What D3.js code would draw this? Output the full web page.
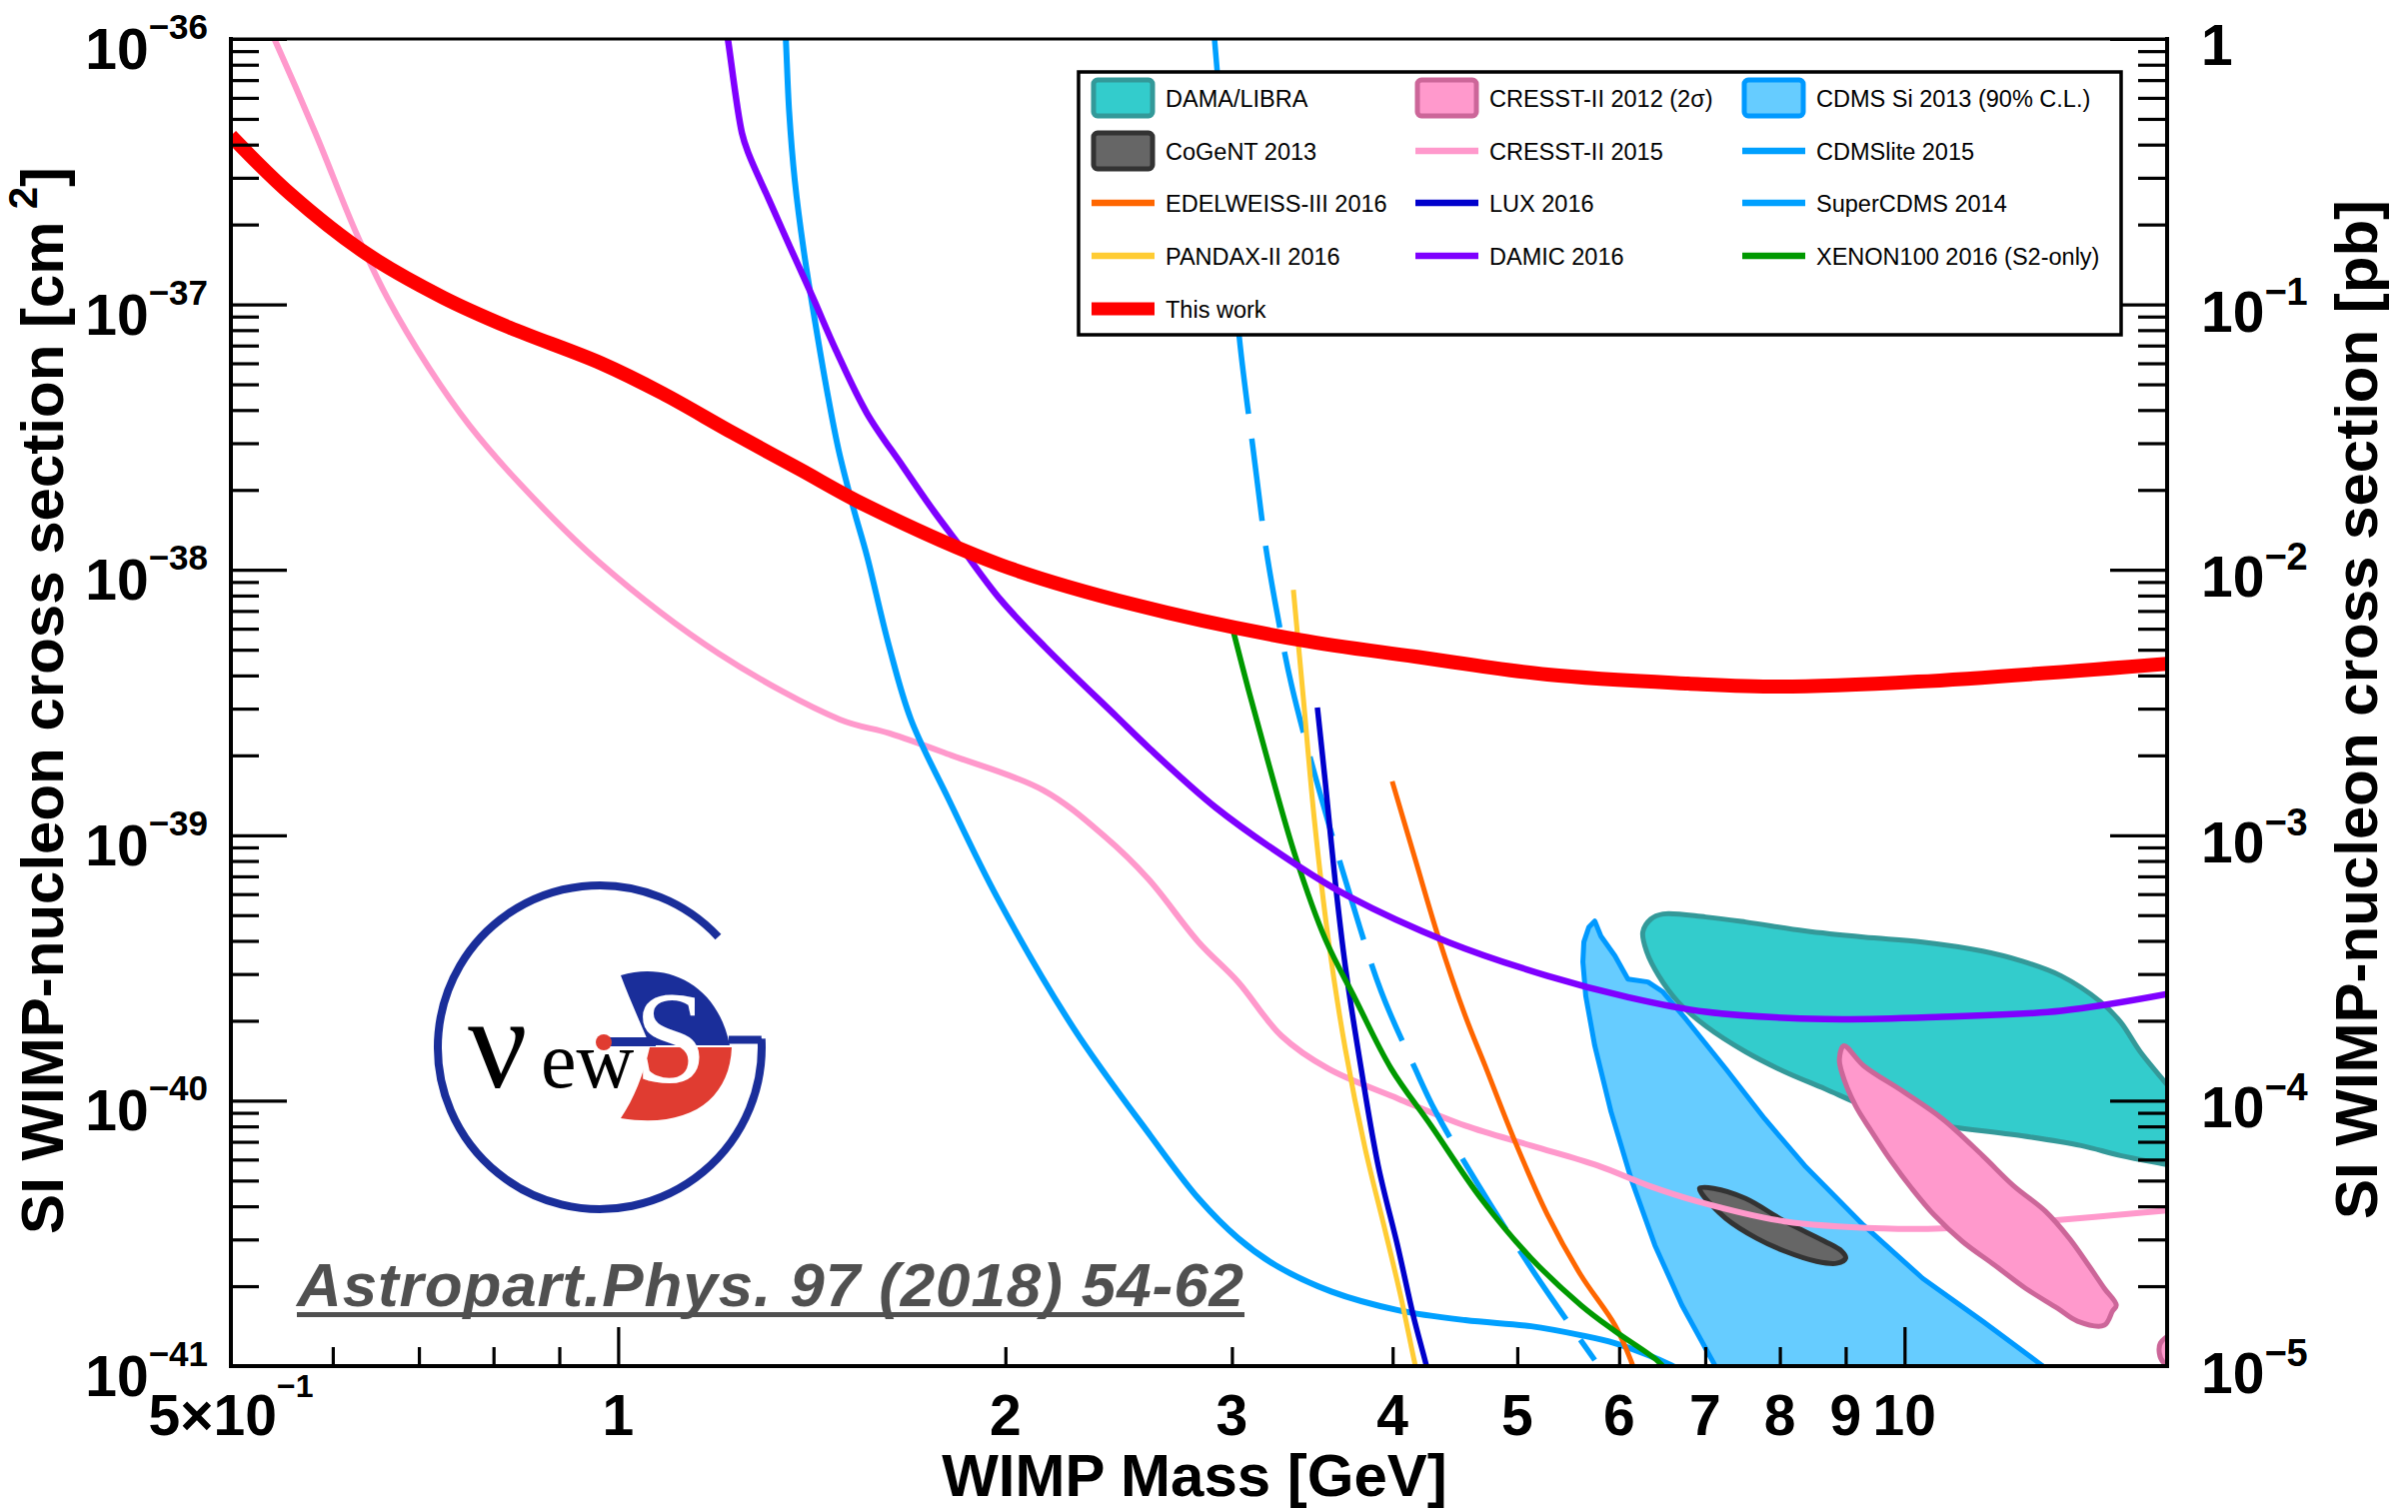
<!DOCTYPE html>
<html><head><meta charset="utf-8">
<script src="https://cdn.jsdelivr.net/npm/d3@7"></script>
<style>body{margin:0;background:#fff} svg{display:block} text{font-family:"Liberation Sans",Arial,Helvetica,sans-serif}</style>
</head><body>
<svg id="c" width="2409" height="1513"></svg>
<script>
// ---------- DATA (mass in GeV, cross section in cm^2) ----------
const redMass  = [0.5,0.556,0.637,0.731,0.823,0.970,1.082,1.228,1.382,1.561,1.983,2.52,3.38,4.165,5.28,6.785,8.0,10.24,16.0];
const redSigma = [4.32e-37,2.61e-37,1.555e-37,1.062e-37,8.19e-38,6.0e-38,4.63e-38,3.28e-38,2.40e-38,1.74e-38,1.044e-38,7.39e-39,5.45e-39,4.71e-39,4.03e-39,3.73e-39,3.63e-39,3.79e-39,4.43e-39];

const cresst15Mass  = [0.532,0.541,0.582,0.626,0.662,0.713,0.766,0.838,0.966,1.198,1.487,1.626,1.816,2.141,2.388,2.584,2.826,3.034,3.278,3.565,4.04,4.555,5.125,5.775,6.32,6.91,8.07,9.63,10.70,12.78,16.0];
const cresst15Sigma = [1.18e-36,9.9e-37,4.39e-37,1.85e-37,1.053e-37,5.75e-38,3.51e-38,2.12e-38,1.072e-38,4.83e-39,2.73e-39,2.42e-39,2.0e-39,1.476e-39,9.91e-40,6.83e-40,3.96e-40,2.80e-40,1.755e-40,1.319e-40,1.017e-40,8.05e-41,6.77e-41,5.69e-41,4.79e-41,4.17e-41,3.51e-41,3.30e-41,3.30e-41,3.51e-41,3.86e-41];

const damicMass  = [1.213,1.217,1.248,1.264,1.310,1.362,1.417,1.477,1.561,1.664,1.759,1.846,1.983,2.146,2.440,2.584,2.913,3.38,3.694,4.418,5.28,6.085,7.007,8.67,10.70,13.24,16.0];
const damicSigma = [1.1e-36,1.0e-36,4.43e-37,3.66e-37,2.48e-37,1.623e-37,1.062e-37,6.71e-38,3.89e-38,2.46e-38,1.667e-38,1.221e-38,7.71e-39,5.13e-39,2.80e-39,2.14e-39,1.274e-39,7.65e-40,5.90e-40,3.96e-40,2.95e-40,2.46e-40,2.16e-40,2.03e-40,2.07e-40,2.18e-40,2.52e-40];

const cdmsliteMass  = [1.348,1.350,1.358,1.372,1.394,1.422,1.453,1.484,1.525,1.561,1.623,1.689,1.807,1.972,2.259,2.593,2.826,3.034,3.243,3.584,4.04,4.555,5.125,5.603,5.955,6.32,6.58,6.9];
const cdmsliteSigma = [1.1e-36,1.0e-36,5.36e-37,2.92e-37,1.596e-37,8.71e-38,4.75e-38,2.82e-38,1.681e-38,1.129e-38,5.22e-39,2.73e-39,1.364e-39,5.80e-40,1.88e-40,7.38e-41,4.28e-41,3.03e-41,2.40e-41,1.91e-41,1.624e-41,1.489e-41,1.413e-41,1.307e-41,1.220e-41,1.10e-41,1.009e-41,8.9e-42];

const superCdmsMass  = [2.894,2.908,2.970,3.040,3.117,3.190,3.260,3.337,3.502,3.694,3.920,4.165,4.316,4.645,5.144,5.744];
const superCdmsSigma = [1.3e-36,1.0e-36,2.92e-37,7.51e-38,2.82e-38,1.19e-38,6.49e-39,3.70e-39,1.515e-39,6.27e-40,2.57e-40,1.319e-40,9.17e-41,4.96e-41,2.28e-41,1.053e-41];

const pandaxMass  = [3.349,3.410,3.477,3.565,3.675,3.808,3.948,4.062,4.165,4.19];
const pandaxSigma = [8.41e-39,3.25e-39,1.148e-39,4.06e-40,1.568e-40,6.60e-41,3.22e-41,1.80e-41,1.009e-41,9e-42];

const luxMass  = [3.496,3.546,3.610,3.675,3.781,3.898,4.04,4.150,4.248,4.27];
const luxSigma = [3.03e-39,1.582e-39,6.66e-40,3.22e-40,1.319e-40,5.69e-41,2.78e-41,1.555e-41,1.009e-41,9e-42];

const xenonMass  = [3.008,3.090,3.202,3.361,3.546,3.741,3.990,4.285,4.686,5.125,5.603,5.955,6.43,6.57];
const xenonSigma = [5.85e-39,3.54e-39,1.88e-39,8.34e-40,4.06e-40,2.42e-40,1.319e-40,8.05e-41,4.28e-41,2.55e-41,1.696e-41,1.354e-41,1.044e-41,9.3e-42];

const edelMass  = [3.997,4.165,4.339,4.555,4.720,4.980,5.28,5.603,5.955,6.13,6.17];
const edelSigma = [1.596e-39,8.12e-40,4.17e-40,2.09e-40,1.354e-40,7.01e-41,3.70e-41,2.20e-41,1.426e-41,1.044e-41,9.5e-42];

// closed regions
const cdmsSiMass  = [5.744,5.807,5.955,6.095,6.317,6.489,6.761,7.262,7.785,8.364,9.295,10.33,11.50,12.78,13.27,7.185,7.12,6.713,6.397,6.129,5.913,5.744,5.652,5.623,5.633,5.684];
const cdmsSiSigma = [4.75e-40,4.17e-40,3.51e-40,2.87e-40,2.80e-40,2.57e-40,2.03e-40,1.319e-40,8.55e-41,5.69e-41,3.39e-41,2.14e-41,1.476e-41,1.009e-41,8.63e-42,8.63e-42,1.009e-41,1.696e-41,2.85e-41,5.09e-41,9.09e-41,1.61e-40,2.48e-40,3.33e-40,3.96e-40,4.51e-40];

const damaMass  = [6.26,6.35,6.489,7.007,7.524,8.364,9.295,10.33,11.50,12.33,13.24,14.20,14.72,15.25,16.0,16.59,16.59,16.0,14.72,13.72,12.33,10.70,9.98,9.295,8.67,8.07,7.524,7.007,6.665,6.442,6.305];
const damaSigma = [4.32e-40,4.83e-40,5.05e-40,4.92e-40,4.71e-40,4.36e-40,4.13e-40,3.96e-40,3.66e-40,3.36e-40,2.95e-40,2.36e-40,1.98e-40,1.528e-40,1.148e-40,9.17e-41,5.55e-41,5.74e-41,6.21e-41,6.77e-41,7.38e-41,8.05e-41,8.55e-41,9.57e-41,1.109e-40,1.285e-40,1.528e-40,1.91e-40,2.36e-40,2.95e-40,3.63e-40];

const cresst12Mass  = [8.97,8.90,8.935,9.16,9.428,9.77,10.13,10.55,11.09,11.75,12.42,13.15,13.63,14.30,14.51,14.61,14.30,13.90,13.43,12.87,12.15,11.50,10.70,9.98,9.295];
const cresst12Sigma = [1.61e-40,1.438e-40,1.285e-40,9.57e-41,7.65e-41,5.90e-41,4.67e-41,3.70e-41,2.95e-41,2.40e-41,1.963e-41,1.652e-41,1.476e-41,1.426e-41,1.61e-41,1.696e-41,1.963e-41,2.40e-41,3.03e-41,3.83e-41,4.79e-41,6.21e-41,8.55e-41,1.081e-40,1.354e-40];
const cresst12bMass  = [16.06,15.81,15.78,15.89,16.1,16.25];
const cresst12bSigma = [1.297e-41,1.22e-41,1.119e-41,1.035e-41,1.0e-41,1.29e-41];

const cogentMass  = [6.93,7.107,7.524,8.07,8.67,8.935,9.0,8.856,8.545,8.07,7.675,7.262,6.956];
const cogentSigma = [4.67e-41,4.67e-41,4.28e-41,3.51e-41,2.95e-41,2.71e-41,2.55e-41,2.44e-41,2.48e-41,2.71e-41,3.03e-41,3.60e-41,4.47e-41];

// axes / ticks
const xDomain = [0.5, 16];
const yDomain = [1e-41, 1e-36];
const yDomainPb = [1e-5, 1];
const xMajorTicks = [1, 10];
const xMinorTicks = [0.6,0.7,0.8,0.9,2,3,4,5,6,7,8,9];
const xTickLabels = [[0.5,"5×10","−1"],[1,"1",""],[2,"2",""],[3,"3",""],[4,"4",""],[5,"5",""],[6,"6",""],[7,"7",""],[8,"8",""],[9,"9",""],[10,"10",""]];
const yExponents = [-41,-40,-39,-38,-37,-36];
const yPbExponents = [-5,-4,-3,-2,-1,0];

const legendLabels = ["DAMA/LIBRA","CRESST-II 2012 (2σ)","CDMS Si 2013 (90% C.L.)",
  "CoGeNT 2013","CRESST-II 2015","CDMSlite 2015",
  "EDELWEISS-III 2016","LUX 2016","SuperCDMS 2014",
  "PANDAX-II 2016","DAMIC 2016","XENON100 2016 (S2-only)",
  "This work"];
const legendKinds = ["box","box","box","box","line","line","line","line","line","line","line","line","thick"];
const legendFill   = ["#33cccc","#ff99cc","#66ccff","#666666",null,null,null,null,null,null,null,null,null];
const legendStroke = ["#339999","#cc6699","#0099ff","#333333","#ff99cc","#00a0ff","#ff6600","#0000cc","#00a0ff","#ffcc33","#7f00ff","#009900","#ff0000"];

// ---------- DRAW ----------
const svg = d3.select('#c');
const L = 231, R = 2168, T = 39, B = 1367;
const x = d3.scaleLog().domain(xDomain).range([L, R]);
const y = d3.scaleLog().domain(yDomain).range([B, T]);
const yPb = d3.scaleLog().domain(yDomainPb).range([B, T]);

svg.append('rect').attr('width',2409).attr('height',1513).attr('fill','#fff');
svg.append('defs').append('clipPath').attr('id','pc')
  .append('rect').attr('x',L).attr('y',T).attr('width',R-L).attr('height',B-T);
const plot = svg.append('g').attr('clip-path','url(#pc)');

const zip = (a,b) => a.map((v,i)=>[v,b[i]]);
const lineGen = d3.line().x(d=>x(d[0])).y(d=>y(d[1])).curve(d3.curveCatmullRom.alpha(0.5));
const closedSmooth = d3.line().x(d=>x(d[0])).y(d=>y(d[1])).curve(d3.curveCatmullRomClosed.alpha(0.5));
const closedLin = d3.line().x(d=>x(d[0])).y(d=>y(d[1])).curve(d3.curveLinearClosed);

function region(gen, m, s, fill, stroke, w){
  plot.append('path').attr('d', gen(zip(m,s))).attr('fill',fill).attr('stroke',stroke)
    .attr('stroke-width',w).attr('stroke-linejoin','round');
}
function curve(m, s, color, w, dash){
  const p = plot.append('path').attr('d', lineGen(zip(m,s))).attr('fill','none')
    .attr('stroke',color).attr('stroke-width',w).attr('stroke-linejoin','round');
  if (dash) p.attr('stroke-dasharray',dash);
}

region(closedSmooth, damaMass, damaSigma, '#33cccc', '#339999', 5);
region(closedLin, cdmsSiMass, cdmsSiSigma, '#66ccff', '#0099ff', 5);
region(closedSmooth, cogentMass, cogentSigma, '#666666', '#333333', 5);
curve(cresst15Mass, cresst15Sigma, '#ff99cc', 6);
region(closedSmooth, cresst12Mass, cresst12Sigma, '#ff99cc', '#cc6699', 5);
region(closedSmooth, cresst12bMass, cresst12bSigma, '#ff99cc', '#cc6699', 5);
curve(cdmsliteMass, cdmsliteSigma, '#00a0ff', 6);
curve(superCdmsMass, superCdmsSigma, '#00a0ff', 5.5, '83,25');
curve(edelMass, edelSigma, '#ff6600', 5);
curve(pandaxMass, pandaxSigma, '#ffcc33', 5);
curve(luxMass, luxSigma, '#0000cc', 5.5);
curve(xenonMass, xenonSigma, '#009900', 5.5);
curve(damicMass, damicSigma, '#7f00ff', 6.5);
curve(redMass, redSigma, '#ff0000', 14);

// ---------- AXES ----------
function styleAxis(g){
  g.select('.domain').remove();
  g.selectAll('text').remove();
  g.selectAll('line').attr('stroke','#000').attr('stroke-width',3.2);
}
const yMinor = [];
yExponents.slice(0,-1).forEach(e=>{ for(let k=2;k<=9;k++) yMinor.push(k*Math.pow(10,e)); });
const yMajor = yExponents.map(e=>Math.pow(10,e));
const pbMinor = [];
yPbExponents.slice(0,-1).forEach(e=>{ for(let k=2;k<=9;k++) pbMinor.push(k*Math.pow(10,e)); });
const pbMajor = yPbExponents.map(e=>Math.pow(10,e));

svg.append('g').attr('transform',`translate(${L},0)`).call(d3.axisLeft(y).tickValues(yMajor).tickSize(-56).tickSizeOuter(0)).call(styleAxis);
svg.append('g').attr('transform',`translate(${L},0)`).call(d3.axisLeft(y).tickValues(yMinor).tickSize(-28).tickSizeOuter(0)).call(styleAxis);
svg.append('g').attr('transform',`translate(${R},0)`).call(d3.axisRight(yPb).tickValues(pbMajor).tickSize(-57).tickSizeOuter(0)).call(styleAxis);
svg.append('g').attr('transform',`translate(${R},0)`).call(d3.axisRight(yPb).tickValues(pbMinor).tickSize(-29).tickSizeOuter(0)).call(styleAxis);
svg.append('g').attr('transform',`translate(0,${B})`).call(d3.axisBottom(x).tickValues(xMajorTicks).tickSize(-39).tickSizeOuter(0)).call(styleAxis);
svg.append('g').attr('transform',`translate(0,${B})`).call(d3.axisBottom(x).tickValues(xMinorTicks).tickSize(-19).tickSizeOuter(0)).call(styleAxis);

// frame
const frame = svg.append('g').attr('stroke','#000').attr('stroke-linecap','square');
frame.append('line').attr('x1',L).attr('x2',R).attr('y1',T).attr('y2',T).attr('stroke-width',3);
frame.append('line').attr('x1',L).attr('x2',L).attr('y1',T).attr('y2',B).attr('stroke-width',4);
frame.append('line').attr('x1',R).attr('x2',R).attr('y1',T).attr('y2',B).attr('stroke-width',4);
frame.append('line').attr('x1',L).attr('x2',R).attr('y1',B).attr('y2',B).attr('stroke-width',4);

// tick labels
function expLabel(px, py, anchor, base, exp, size, supSize, supDy, weight){
  const t = svg.append('text').attr('x',px).attr('y',py).attr('text-anchor',anchor)
    .attr('font-size',size).attr('font-weight',weight).attr('fill','#000');
  t.append('tspan').text(base);
  if (exp) t.append('tspan').attr('dy',supDy).attr('font-size',supSize).text(exp);
}
yExponents.forEach(e=>{
  expLabel(208, y(Math.pow(10,e))+30, 'end', '10', '−'+Math.abs(e), 57, 35, -30, 'bold');
});
yPbExponents.forEach(e=>{
  if (e===0) expLabel(2202, yPb(1)+26, 'start', '1', '', 57, 38, -27, 'bold');
  else expLabel(2202, yPb(Math.pow(10,e))+27, 'start', '10', '−'+Math.abs(e), 57, 38, -27, 'bold');
});
xTickLabels.forEach(([v,base,exp])=>{
  expLabel(x(v), 1436, 'middle', base, exp, 57, 32, -38, 'bold');
});

// axis titles
const yt = svg.append('text').attr('transform','translate(63,701) rotate(-90)').attr('text-anchor','middle')
  .attr('font-size',60).attr('font-weight','bold');
yt.append('tspan').text('SI WIMP-nucleon cross section [cm');
yt.append('tspan').attr('dx',12).attr('dy',-26).attr('font-size',40).text('2');
yt.append('tspan').attr('dy',26).text(']');
svg.append('text').attr('transform','translate(2378,710) rotate(-90)').attr('text-anchor','middle')
  .attr('font-size',60).attr('font-weight','bold').text('SI WIMP-nucleon cross section [pb]');
svg.append('text').attr('x',1195).attr('y',1497).attr('text-anchor','middle')
  .attr('font-size',60).attr('font-weight','bold').text('WIMP Mass [GeV]');

// ---------- LEGEND ----------
const lg = svg.append('g');
lg.append('rect').attr('x',1079).attr('y',72).attr('width',1043).attr('height',263)
  .attr('fill','#fff').attr('stroke','#000').attr('stroke-width',3.5);
const colX = [1092,1416,1743], rowY = [98,151,203,256,309];
legendLabels.forEach((lab,i)=>{
  const cx = colX[i%3], cy = rowY[Math.floor(i/3)];
  const k = legendKinds[i];
  if (k==='box'){
    lg.append('rect').attr('x',cx+2).attr('y',cy-18).attr('width',59).attr('height',36).attr('rx',4)
      .attr('fill',legendFill[i]).attr('stroke',legendStroke[i]).attr('stroke-width',5);
  } else {
    lg.append('line').attr('x1',cx).attr('x2',cx+63).attr('y1',cy).attr('y2',cy)
      .attr('stroke',legendStroke[i]).attr('stroke-width',k==='thick'?13:6.5);
  }
  lg.append('text').attr('x',cx+74).attr('y',cy+9).attr('font-size',23.5).attr('fill','#000').text(lab);
});

// ---------- LOGO (decoration) ----------
const logo = svg.append('g');
const lc = [600,1048], lr = 162, a1 = -43*Math.PI/180, a2 = -3*Math.PI/180;
const p1 = [lc[0]+lr*Math.cos(a1), lc[1]+lr*Math.sin(a1)], p2 = [lc[0]+lr*Math.cos(a2), lc[1]+lr*Math.sin(a2)];
logo.append('path').attr('d',`M${p1[0]},${p1[1]} A${lr},${lr} 0 1 0 ${p2[0]},${p2[1]} L${p2[0]},${p2[1]+1} L729,${p2[1]+1}`)
  .attr('fill','none').attr('stroke','#1a2e9a').attr('stroke-width',8);
logo.append('path').attr('d','M621,976 C668,962 718,985 730,1046 L650,1046 C640,1022 630,1000 621,976 Z').attr('fill','#1a2e9a');
logo.append('path').attr('d','M650,1048 L732,1048 C730,1100 690,1130 621,1119 C634,1100 644,1075 650,1048 Z').attr('fill','#e03c31');
logo.append('text').attr('x',671).attr('y',1083).attr('text-anchor','middle').attr('font-size',132)
  .style('font-family','"Liberation Serif",serif').attr('fill','#fff').text('S');
logo.append('rect').attr('x',606).attr('y',1038).attr('width',50).attr('height',9).attr('fill','#1a2e9a');
logo.append('text').attr('x',468).attr('y',1088).attr('font-size',132).style('font-family','"Liberation Serif",serif').attr('fill','#000').text('ν');
logo.append('text').attr('x',541).attr('y',1088).attr('font-size',80).style('font-family','"Liberation Serif",serif').attr('fill','#000').text('ew');
logo.append('circle').attr('cx',604).attr('cy',1043).attr('r',8).attr('fill','#e03c31');

// citation
svg.append('text').attr('x',297).attr('y',1307).attr('font-size',62).attr('font-weight','bold')
  .attr('font-style','italic').attr('fill','#505050').attr('textLength',947).attr('lengthAdjust','spacing')
  .text('Astropart.Phys. 97 (2018) 54-62');
svg.append('rect').attr('x',297).attr('y',1313).attr('width',948).attr('height',5).attr('fill','#505050');
</script>
</body></html>
